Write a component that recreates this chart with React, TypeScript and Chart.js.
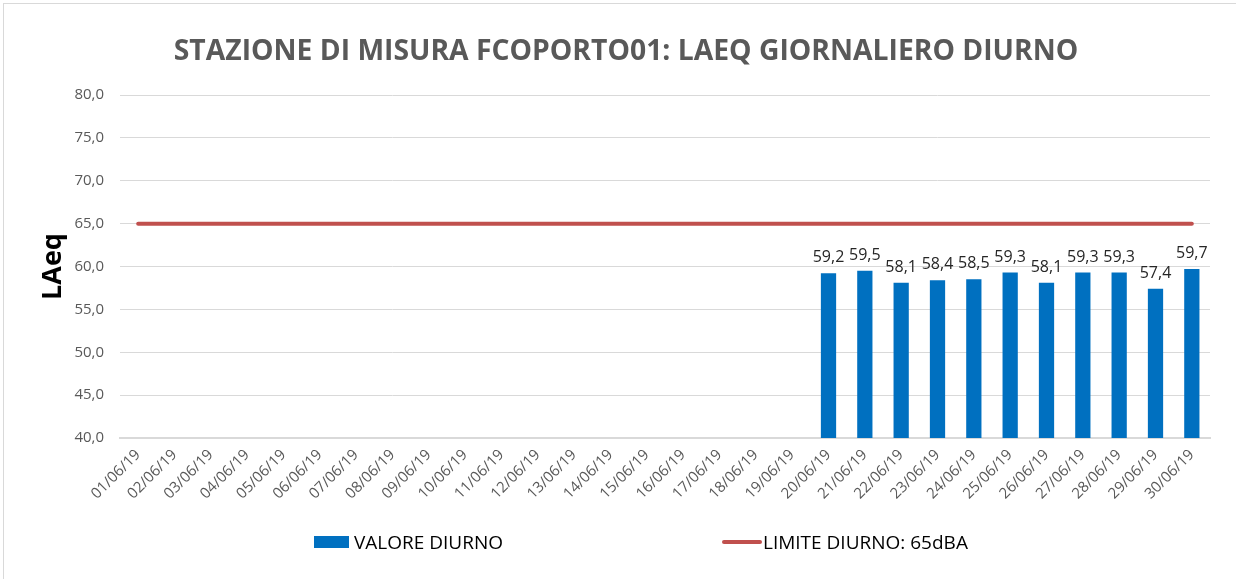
import React, { useEffect, useRef } from "react";
import { Chart, registerables } from "chart.js";

Chart.register(...registerables);

const TITLE = "STAZIONE DI MISURA FCOPORTO01: LAEQ GIORNALIERO DIURNO";
const Y_TITLE = "LAeq";
const BAR_LABEL = "VALORE DIURNO";
const LINE_LABEL = "LIMITE DIURNO: 65dBA";

const categories = [
  "01/06/19", "02/06/19", "03/06/19", "04/06/19", "05/06/19", "06/06/19",
  "07/06/19", "08/06/19", "09/06/19", "10/06/19", "11/06/19", "12/06/19",
  "13/06/19", "14/06/19", "15/06/19", "16/06/19", "17/06/19", "18/06/19",
  "19/06/19", "20/06/19", "21/06/19", "22/06/19", "23/06/19", "24/06/19",
  "25/06/19", "26/06/19", "27/06/19", "28/06/19", "29/06/19", "30/06/19",
];

const valoreDiurno: (number | null)[] = [
  null, null, null, null, null, null, null, null, null, null,
  null, null, null, null, null, null, null, null, null,
  59.2, 59.5, 58.1, 58.4, 58.5, 59.3, 58.1, 59.3, 59.3, 57.4, 59.7,
];

const limiteDiurno: number[] = [
  65, 65, 65, 65, 65, 65, 65, 65, 65, 65,
  65, 65, 65, 65, 65, 65, 65, 65, 65, 65,
  65, 65, 65, 65, 65, 65, 65, 65, 65, 65,
];

const Y_MIN = 40;
const Y_MAX = 80;
const Y_STEP = 5;

const FONT = "'Open Sans', 'Noto Sans', sans-serif";
const BLUE = "#0070C0";
const RED = "#C0504D";
const GRAY_TEXT = "#595959";
const GRID = "#d9d9d9";

const fmt = (v: number) => v.toFixed(1).replace(".", ",");

const decorPlugin = {
  id: "decor",
  afterDatasetsDraw(chart: any) {
    const { ctx } = chart;
    const meta = chart.getDatasetMeta(0);
    ctx.save();
    ctx.font = `16px ${FONT}`;
    ctx.fillStyle = "#262626";
    ctx.textAlign = "center";
    ctx.textBaseline = "alphabetic";
    meta.data.forEach((el: any, i: number) => {
      const v = valoreDiurno[i];
      if (v == null) return;
      ctx.fillText(fmt(v), el.x, el.y - 11);
    });
    ctx.restore();
  },
  afterDraw(chart: any) {
    const { ctx } = chart;
    ctx.save();
    ctx.font = `bold 28.3px ${FONT}`;
    ctx.fillStyle = GRAY_TEXT;
    ctx.textAlign = "center";
    ctx.textBaseline = "alphabetic";
    ctx.fillText(TITLE, 626, 60);
    ctx.fillStyle = BLUE;
    ctx.fillRect(314, 536, 35, 12);
    ctx.font = `19px ${FONT}`;
    ctx.fillStyle = "#000000";
    ctx.textAlign = "left";
    ctx.fillText(BAR_LABEL, 354, 549);
    ctx.strokeStyle = RED;
    ctx.lineWidth = 4;
    ctx.lineCap = "round";
    ctx.beginPath();
    ctx.moveTo(724, 542);
    ctx.lineTo(760, 542);
    ctx.stroke();
    ctx.fillStyle = "#000000";
    ctx.fillText(LINE_LABEL, 763, 549);
    ctx.restore();
  },
};

export default function App() {
  const ref = useRef<HTMLCanvasElement | null>(null);

  useEffect(() => {
    if (!ref.current) return;
    const chart = new Chart(ref.current, {
      type: "bar",
      data: {
        labels: categories,
        datasets: [
          {
            type: "bar",
            label: BAR_LABEL,
            data: valoreDiurno,
            backgroundColor: BLUE,
            borderWidth: 0,
            categoryPercentage: 1,
            barPercentage: 0.42,
            order: 2,
          },
          {
            type: "line",
            label: LINE_LABEL,
            data: limiteDiurno,
            borderColor: RED,
            backgroundColor: RED,
            borderWidth: 4,
            pointRadius: 0,
            borderCapStyle: "round",
            fill: false,
            order: 1,
          },
        ],
      } as any,
      options: {
        animation: false,
        responsive: false,
        maintainAspectRatio: false,
        layout: { padding: { top: 95, right: 26, left: 0, bottom: 0 } },
        plugins: {
          legend: { display: false },
          title: { display: false },
          tooltip: { enabled: false },
        },
        scales: {
          x: {
            offset: true,
            grid: { display: false, drawTicks: false },
            border: { display: true, color: GRID, width: 2 },
            ticks: {
              autoSkip: false,
              minRotation: 45,
              maxRotation: 45,
              padding: 8,
              color: GRAY_TEXT,
              font: { family: FONT, size: 15 },
            },
            afterFit: (s: any) => {
              s.height = 141;
            },
          },
          y: {
            min: Y_MIN,
            max: Y_MAX,
            ticks: {
              stepSize: Y_STEP,
              padding: 16,
              color: GRAY_TEXT,
              font: { family: FONT, size: 15 },
              callback: (v: any) => fmt(Number(v)),
            },
            grid: { color: GRID, lineWidth: 1, drawTicks: false },
            border: { display: false },
            title: {
              display: true,
              text: Y_TITLE,
              color: "#000000",
              font: { family: FONT, size: 27, weight: "bold" },
              padding: { top: 37, bottom: 0 },
            },
            afterFit: (s: any) => {
              s.width = 120;
            },
          },
        },
      },
      plugins: [decorPlugin],
    });
    return () => chart.destroy();
  }, []);

  return (
    <div
      style={{
        position: "fixed",
        left: 0,
        top: 0,
        width: 1236,
        height: 579,
        overflow: "hidden",
        background: "#ffffff",
      }}
    >
      <div
        style={{
          position: "absolute",
          left: 3,
          top: 3,
          width: 1260,
          height: 600,
          border: "1px solid #d9d9d9",
          boxSizing: "border-box",
        }}
      />
      <canvas
        ref={ref}
        width={1236}
        height={579}
        style={{ position: "absolute", left: 0, top: 0, width: 1236, height: 579 }}
      />
    </div>
  );
}
